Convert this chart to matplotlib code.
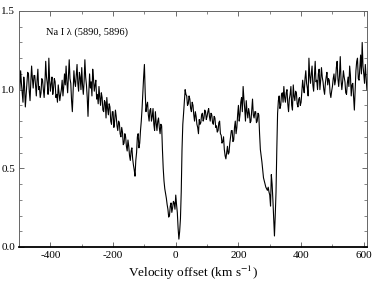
import numpy as np
import matplotlib
matplotlib.use("Agg")
import matplotlib.pyplot as plt
from matplotlib.ticker import MultipleLocator, FormatStrFormatter

# velocity grid (km/s), one row per 50 km/s
velocity = [
    -500, -497.5, -495, -492.5, -490, -487.5, -485, -482.5, -480, -477.5, -475, -472.5, -470, -467.5, -465, -462.5, -460, -457.5, -455, -452.5,
    -450, -447.5, -445, -442.5, -440, -437.5, -435, -432.5, -430, -427.5, -425, -422.5, -420, -417.5, -415, -412.5, -410, -407.5, -405, -402.5,
    -400, -397.5, -395, -392.5, -390, -387.5, -385, -382.5, -380, -377.5, -375, -372.5, -370, -367.5, -365, -362.5, -360, -357.5, -355, -352.5,
    -350, -347.5, -345, -342.5, -340, -337.5, -335, -332.5, -330, -327.5, -325, -322.5, -320, -317.5, -315, -312.5, -310, -307.5, -305, -302.5,
    -300, -297.5, -295, -292.5, -290, -287.5, -285, -282.5, -280, -277.5, -275, -272.5, -270, -267.5, -265, -262.5, -260, -257.5, -255, -252.5,
    -250, -247.5, -245, -242.5, -240, -237.5, -235, -232.5, -230, -227.5, -225, -222.5, -220, -217.5, -215, -212.5, -210, -207.5, -205, -202.5,
    -200, -197.5, -195, -192.5, -190, -187.5, -185, -182.5, -180, -177.5, -175, -172.5, -170, -167.5, -165, -162.5, -160, -157.5, -155, -152.5,
    -150, -147.5, -145, -142.5, -140, -137.5, -135, -132.5, -130, -127.5, -125, -122.5, -120, -117.5, -115, -112.5, -110, -107.5, -105, -102.5,
    -100, -97.5, -95, -92.5, -90, -87.5, -85, -82.5, -80, -77.5, -75, -72.5, -70, -67.5, -65, -62.5, -60, -57.5, -55, -52.5,
    -50, -47.5, -45, -42.5, -40, -37.5, -35, -32.5, -30, -27.5, -25, -22.5, -20, -17.5, -15, -12.5, -10, -7.5, -5, -2.5,
    0, 2.5, 5, 7.5, 10, 12.5, 15, 17.5, 20, 22.5, 25, 27.5, 30, 32.5, 35, 37.5, 40, 42.5, 45, 47.5,
    50, 52.5, 55, 57.5, 60, 62.5, 65, 67.5, 70, 72.5, 75, 77.5, 80, 82.5, 85, 87.5, 90, 92.5, 95, 97.5,
    100, 102.5, 105, 107.5, 110, 112.5, 115, 117.5, 120, 122.5, 125, 127.5, 130, 132.5, 135, 137.5, 140, 142.5, 145, 147.5,
    150, 152.5, 155, 157.5, 160, 162.5, 165, 167.5, 170, 172.5, 175, 177.5, 180, 182.5, 185, 187.5, 190, 192.5, 195, 197.5,
    200, 202.5, 205, 207.5, 210, 212.5, 215, 217.5, 220, 222.5, 225, 227.5, 230, 232.5, 235, 237.5, 240, 242.5, 245, 247.5,
    250, 252.5, 255, 257.5, 260, 262.5, 265, 267.5, 270, 272.5, 275, 277.5, 280, 282.5, 285, 287.5, 290, 292.5, 295, 297.5,
    300, 302.5, 305, 307.5, 310, 312.5, 315, 317.5, 320, 322.5, 325, 327.5, 330, 332.5, 335, 337.5, 340, 342.5, 345, 347.5,
    350, 352.5, 355, 357.5, 360, 362.5, 365, 367.5, 370, 372.5, 375, 377.5, 380, 382.5, 385, 387.5, 390, 392.5, 395, 397.5,
    400, 402.5, 405, 407.5, 410, 412.5, 415, 417.5, 420, 422.5, 425, 427.5, 430, 432.5, 435, 437.5, 440, 442.5, 445, 447.5,
    450, 452.5, 455, 457.5, 460, 462.5, 465, 467.5, 470, 472.5, 475, 477.5, 480, 482.5, 485, 487.5, 490, 492.5, 495, 497.5,
    500, 502.5, 505, 507.5, 510, 512.5, 515, 517.5, 520, 522.5, 525, 527.5, 530, 532.5, 535, 537.5, 540, 542.5, 545, 547.5,
    550, 552.5, 555, 557.5, 560, 562.5, 565, 567.5, 570, 572.5, 575, 577.5, 580, 582.5, 585, 587.5, 590, 592.5, 595, 597.5,
    600, 602.5, 605, 607.5, 610,
]

# normalised flux
flux = [
    1.06, 1.00, 1.12, 1.04, 0.98, 0.92, 1.08, 1.02, 0.89, 0.97, 1.04, 1.11, 1.10, 0.99, 0.93, 1.05, 1.15, 1.07, 1.01, 1.09,
    1.09, 1.03, 0.96, 1.06, 1.13, 1.00, 1.02, 0.95, 0.98, 1.07, 1.06, 1.00, 0.95, 1.04, 1.18, 1.08, 1.04, 0.97, 1.20, 1.06,
    0.99, 1.04, 1.08, 0.97, 1.01, 1.07, 1.05, 0.95, 0.97, 0.92, 1.03, 0.98, 0.93, 0.97, 1.00, 1.06, 0.96, 1.02, 1.10, 1.03,
    1.15, 1.05, 0.98, 1.08, 1.19, 1.07, 1.04, 0.93, 0.86, 0.99, 1.12, 1.05, 1.02, 1.09, 1.16, 1.04, 0.99, 1.11, 1.08, 1.00,
    1.14, 1.03, 0.97, 1.05, 1.19, 1.08, 1.03, 0.95, 0.83, 0.98, 1.10, 1.01, 1.05, 0.96, 1.13, 1.07, 0.99, 1.03, 1.06, 0.94,
    0.97, 0.91, 1.02, 0.95, 0.90, 0.98, 0.95, 0.87, 0.86, 0.93, 0.92, 0.82, 0.95, 0.88, 0.84, 0.91, 0.89, 0.80, 0.78, 0.86,
    0.86, 0.76, 0.80, 0.87, 0.83, 0.77, 0.74, 0.80, 0.79, 0.72, 0.70, 0.76, 0.73, 0.65, 0.66, 0.72, 0.70, 0.64, 0.61, 0.68,
    0.64, 0.58, 0.55, 0.61, 0.63, 0.56, 0.52, 0.49, 0.45, 0.55, 0.60, 0.70, 0.72, 0.63, 0.66, 0.74, 0.80, 0.88, 0.98, 1.08,
    1.16, 0.98, 0.86, 0.90, 0.92, 0.84, 0.80, 0.87, 0.88, 0.80, 0.83, 0.88, 0.78, 0.74, 0.86, 0.79, 0.74, 0.80, 0.82, 0.76,
    0.72, 0.78, 0.77, 0.62, 0.50, 0.42, 0.37, 0.34, 0.31, 0.27, 0.24, 0.19, 0.20, 0.26, 0.28, 0.22, 0.25, 0.29, 0.28, 0.24,
    0.33, 0.27, 0.22, 0.12, 0.05, 0.10, 0.18, 0.35, 0.62, 0.78, 0.85, 0.93, 1.00, 0.97, 0.96, 0.90, 0.91, 0.96, 0.94, 0.88,
    0.86, 0.92, 0.90, 0.84, 0.80, 0.86, 0.83, 0.78, 0.76, 0.72, 0.81, 0.78, 0.79, 0.84, 0.85, 0.80, 0.82, 0.87, 0.86, 0.81,
    0.83, 0.86, 0.88, 0.83, 0.80, 0.85, 0.84, 0.79, 0.78, 0.83, 0.82, 0.76, 0.77, 0.73, 0.74, 0.79, 0.80, 0.72, 0.71, 0.66,
    0.67, 0.70, 0.62, 0.58, 0.56, 0.60, 0.64, 0.59, 0.60, 0.66, 0.70, 0.74, 0.74, 0.67, 0.68, 0.76, 0.80, 0.72, 0.76, 0.84,
    0.90, 0.80, 0.84, 0.92, 0.95, 0.86, 1.02, 0.94, 0.88, 0.80, 0.93, 0.86, 0.82, 0.88, 0.85, 0.79, 0.80, 0.87, 0.94, 0.84,
    0.82, 0.86, 0.86, 0.79, 0.80, 0.85, 0.84, 0.72, 0.62, 0.58, 0.54, 0.49, 0.44, 0.42, 0.40, 0.38, 0.37, 0.36, 0.38, 0.35,
    0.33, 0.26, 0.46, 0.40, 0.30, 0.18, 0.07, 0.20, 0.35, 0.62, 0.85, 0.93, 0.96, 0.88, 0.90, 0.97, 0.98, 0.92, 1.02, 0.95,
    0.92, 0.98, 1.00, 0.91, 0.86, 0.94, 0.97, 1.02, 0.90, 0.87, 1.03, 0.96, 0.93, 0.99, 0.98, 0.91, 0.89, 0.94, 0.95, 0.90,
    0.92, 0.99, 1.06, 1.01, 0.98, 1.07, 1.12, 1.04, 1.01, 0.96, 1.20, 1.09, 1.04, 1.10, 1.15, 1.03, 0.99, 1.08, 1.18, 1.05,
    1.06, 1.00, 1.10, 1.13, 1.00, 1.06, 1.14, 1.08, 1.05, 1.00, 0.97, 1.04, 1.08, 1.11, 1.03, 1.07, 1.06, 0.98, 0.95, 0.99,
    1.02, 1.07, 1.10, 1.03, 1.06, 1.14, 1.18, 1.07, 1.02, 1.09, 1.21, 1.06, 1.00, 1.05, 1.12, 1.08, 1.05, 0.98, 0.97, 1.04,
    1.08, 1.02, 1.15, 1.09, 0.96, 1.03, 1.04, 0.95, 0.87, 1.00, 1.12, 1.18, 1.20, 1.07, 1.06, 1.14, 1.22, 1.10, 1.30, 1.15,
    1.10, 1.04, 1.16, 1.08, 1.00,
]

plt.rcParams['font.family'] = ['Liberation Serif', 'DejaVu Serif']
plt.rcParams['mathtext.fontset'] = 'stix'
plt.rcParams['axes.unicode_minus'] = False

fig = plt.figure(figsize=(3.74, 2.81), dpi=100)
ax = fig.add_axes([0.051, 0.121, 0.930, 0.840])

ax.plot(velocity, flux, color='black', lw=0.8)

ax.set_xlim(-500, 610)
ax.set_ylim(0, 1.5)
ax.xaxis.set_major_locator(MultipleLocator(200))
ax.xaxis.set_minor_locator(MultipleLocator(100))
ax.yaxis.set_major_locator(MultipleLocator(0.5))
ax.yaxis.set_minor_locator(MultipleLocator(0.1))
ax.yaxis.set_major_formatter(FormatStrFormatter('%.1f'))
ax.tick_params(which='both', direction='in', top=True, right=True,
               labelsize=8, color='#555555', pad=3)
ax.tick_params(which='major', length=3.5, width=0.6)
ax.tick_params(which='minor', length=2, width=0.5)
for side in ['top', 'left', 'right']:
    ax.spines[side].set_color('#666666')
    ax.spines[side].set_linewidth(0.7)
ax.spines['bottom'].set_linewidth(1.3)

ax.text(-415, 1.35, 'Na I λ (5890, 5896)', fontsize=7.5)
ax.set_xlabel(r'Velocity offset (km s$^{-1}$)', fontsize=9.5, labelpad=3)

fig.savefig('out.png', dpi=100)
